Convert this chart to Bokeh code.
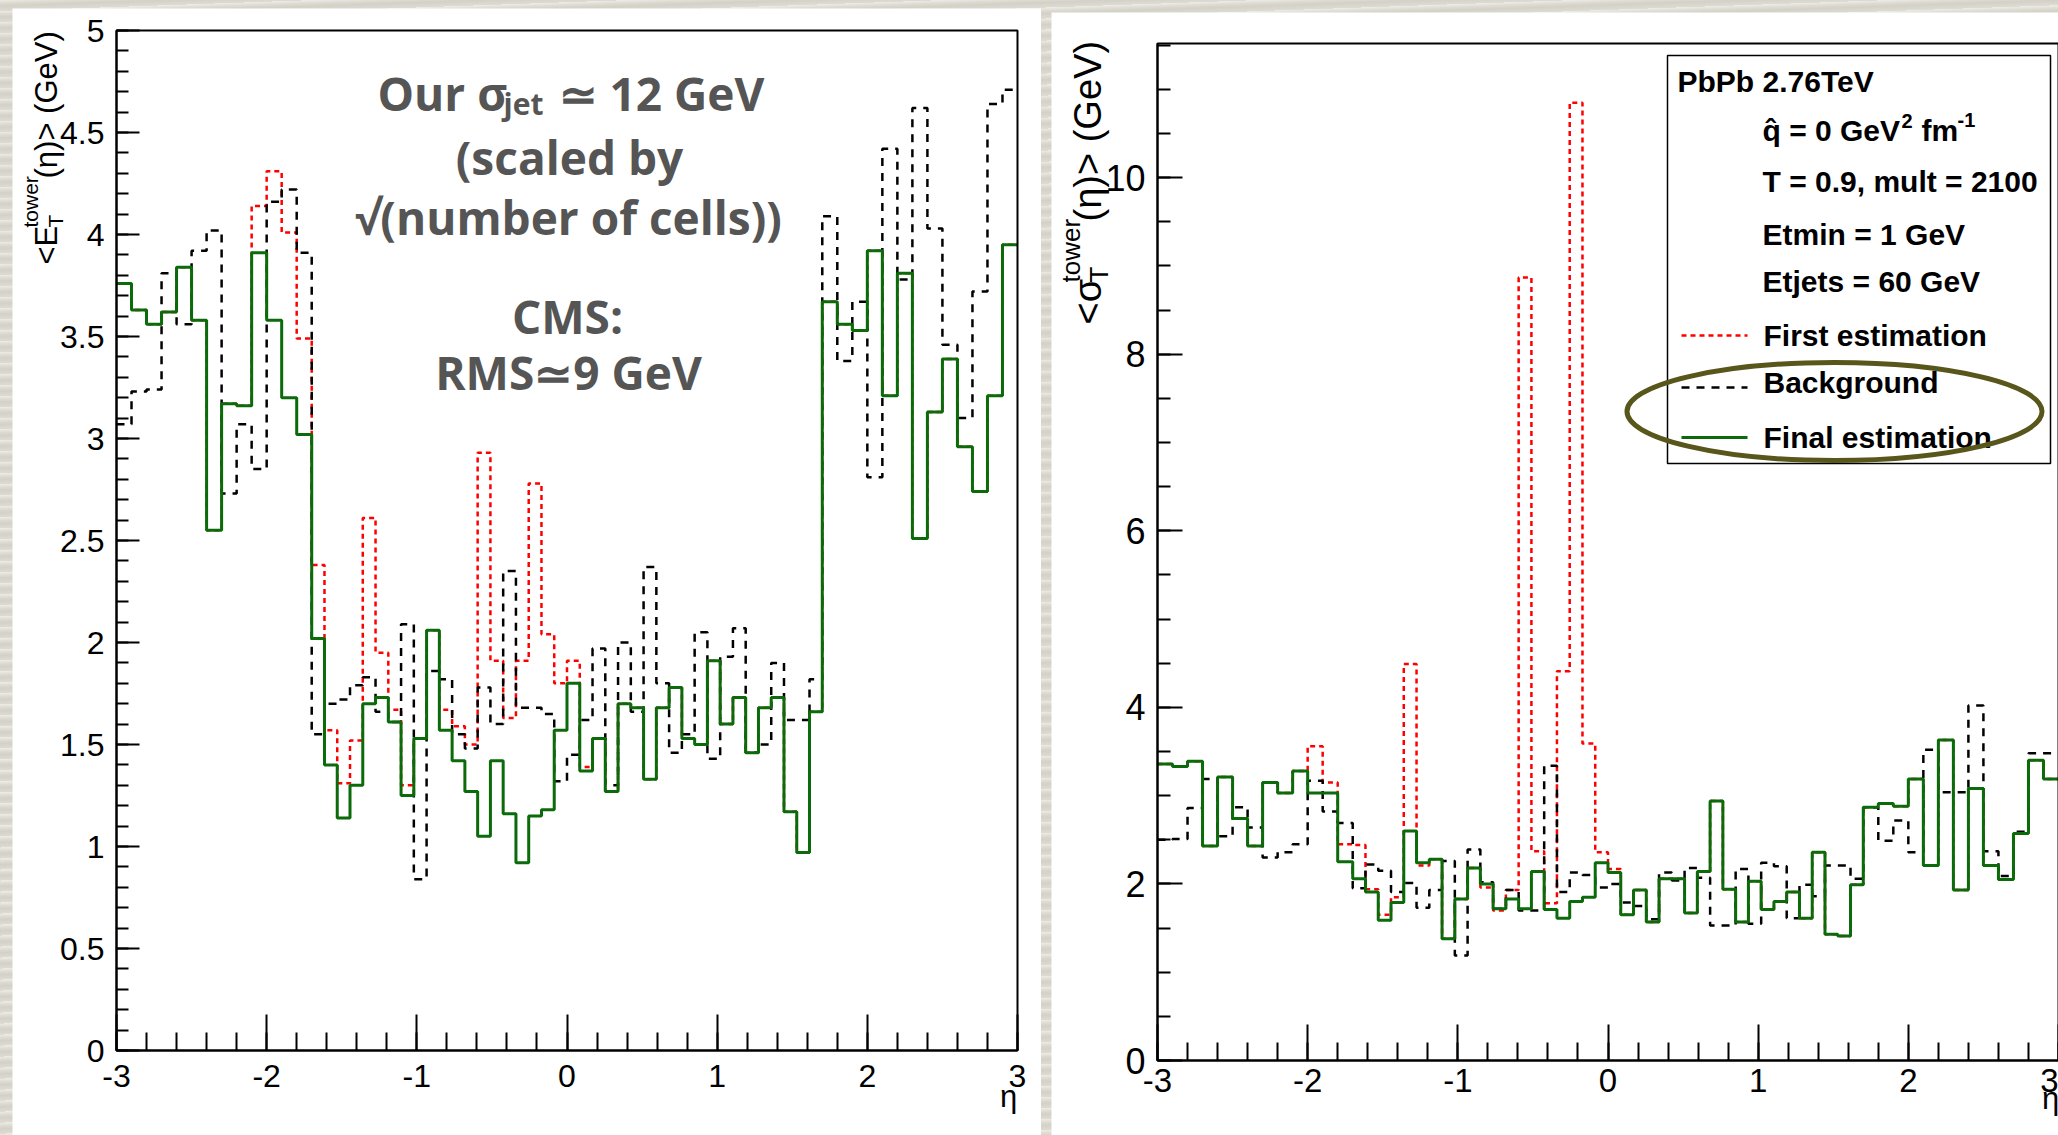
import numpy as np
from bokeh.plotting import figure
from bokeh.models import Range1d, FixedTicker, Label
from bokeh.layouts import row
from bokeh.embed import file_html
from bokeh.resources import INLINE
from bokeh.core.properties import value

# ---------------- data ----------------
# eta binning: 0.1 wide in the endcaps, 40 narrower bins in the barrel (|eta| < 1.7)
ETA_EDGES = np.round(np.concatenate([
    np.linspace(-3.0, -1.7, 14),
    np.linspace(-1.7, 1.7, 41)[1:],
    np.linspace(1.7, 3.0, 14)[1:],
]), 4)

# left panel : <E_T^tower(eta)> (GeV)
ET_FINAL = [3.76, 3.63, 3.56, 3.62, 3.84, 3.58, 2.55, 3.17, 3.16, 3.91, 3.58, 3.20, 3.02,
            2.02, 1.40, 1.14, 1.30, 1.70, 1.73, 1.61, 1.25, 1.53, 2.06, 1.57, 1.42, 1.27, 1.05,
            1.42, 1.16, 0.92, 1.15, 1.18, 1.57, 1.80, 1.37, 1.53, 1.27, 1.70, 1.68, 1.33, 1.68,
            1.78, 1.53, 1.50, 1.91, 1.60, 1.73, 1.46, 1.68, 1.73, 1.17, 0.97, 1.66,
            3.67, 3.56, 3.53, 3.92, 3.21, 3.81, 2.51, 3.13, 3.39, 2.96, 2.74, 3.21, 3.95]
ET_BACKGROUND = [3.07, 3.23, 3.24, 3.81, 3.56, 3.92, 4.02, 2.73, 3.07, 2.85, 4.16, 4.22, 3.91,
                 1.55, 1.70, 1.72, 1.79, 1.83, 1.66, 1.61, 2.09, 0.84, 1.86, 1.82, 1.55, 1.48, 1.78,
                 1.60, 2.35, 1.68, 1.68, 1.65, 1.32, 1.45, 1.62, 1.97, 1.30, 2.00, 1.66, 2.37, 1.80,
                 1.46, 1.55, 2.05, 1.43, 1.93, 2.07, 1.46, 1.50, 1.90, 1.62, 1.62, 1.82,
                 4.09, 3.38, 3.67, 2.81, 4.42, 3.78, 4.62, 4.03, 3.46, 3.10, 3.72, 4.64, 4.71]
ET_FIRST = [3.76, 3.63, 3.56, 3.62, 3.84, 3.58, 2.55, 3.17, 3.16, 4.14, 4.31, 4.01, 3.49,
            2.38, 1.57, 1.31, 1.52, 2.61, 1.95, 1.67, 1.30, 1.53, 2.06, 1.67, 1.59, 1.50, 2.93,
            1.91, 1.63, 1.91, 2.78, 2.04, 1.80, 1.91, 1.39, 1.53, 1.27, 1.70, 1.68, 1.33, 1.68,
            1.78, 1.53, 1.50, 1.91, 1.60, 1.73, 1.46, 1.68, 1.73, 1.17, 0.97, 1.66,
            3.67, 3.56, 3.53, 3.92, 3.21, 3.81, 2.51, 3.13, 3.39, 2.96, 2.74, 3.21, 3.95]

# right panel : <sigma_T^tower(eta)> (GeV)
SIG_FINAL = [3.36, 3.33, 3.39, 2.43, 3.21, 2.74, 2.43, 3.15, 3.03, 3.28, 3.03, 3.03, 2.25,
             2.06, 1.91, 1.59, 1.79, 2.60, 2.24, 2.28, 1.38, 1.83, 2.18, 2.00, 1.72, 1.83, 1.72,
             2.14, 1.71, 1.61, 1.80, 1.85, 2.24, 2.13, 1.65, 1.93, 1.57, 2.06, 2.06, 1.67, 2.14,
             2.94, 1.94, 1.57, 2.03, 1.71, 1.80, 1.91, 1.61, 2.36, 1.43, 1.41, 1.99,
             2.87, 2.91, 2.88, 3.19, 2.21, 3.63, 1.93, 3.08, 2.21, 2.05, 2.57, 3.40, 3.19]
SIG_BACKGROUND = [2.50, 2.51, 2.86, 3.19, 2.54, 2.87, 2.64, 2.30, 2.36, 2.45, 3.17, 2.82, 2.69,
                  1.95, 2.22, 2.15, 1.91, 2.01, 1.73, 1.93, 2.26, 1.19, 2.39, 2.02, 1.72, 1.93, 1.70,
                  1.70, 3.34, 1.91, 2.13, 2.10, 1.96, 2.00, 1.79, 1.75, 1.60, 2.13, 2.04, 2.18, 2.07,
                  1.53, 1.53, 2.17, 1.55, 2.24, 2.20, 1.61, 1.99, 1.86, 2.21, 2.21, 2.06,
                  2.87, 2.49, 2.72, 2.36, 3.52, 3.04, 3.04, 4.02, 2.37, 2.09, 2.59, 3.48, 3.48]
SIG_FIRST = [3.36, 3.33, 3.39, 2.43, 3.21, 2.74, 2.43, 3.15, 3.03, 3.28, 3.56, 3.15, 2.45,
             2.44, 1.94, 1.65, 1.85, 4.49, 2.21, 2.28, 1.38, 1.83, 2.18, 1.96, 1.70, 1.93, 8.87,
             2.37, 1.78, 4.41, 10.85, 3.59, 2.36, 2.17, 1.65, 1.93, 1.57, 2.06, 2.06, 1.67, 2.14,
             2.94, 1.94, 1.57, 2.03, 1.71, 1.80, 1.91, 1.61, 2.36, 1.43, 1.41, 1.99,
             2.87, 2.91, 2.88, 3.19, 2.21, 3.63, 1.93, 3.08, 2.21, 2.05, 2.57, 3.40, 3.19]

X_TICKS = [-3, -2, -1, 0, 1, 2, 3]
X_TICK_LABELS = ["-3", "-2", "-1", "0", "1", "2", "3"]
LEFT_Y_TICKS = [0, 0.5, 1, 1.5, 2, 2.5, 3, 3.5, 4, 4.5, 5]
LEFT_Y_TICK_LABELS = ["0", "0.5", "1", "1.5", "2", "2.5", "3", "3.5", "4", "4.5", "5"]
RIGHT_Y_TICKS = [0, 2, 4, 6, 8, 10]
RIGHT_Y_TICK_LABELS = ["0", "2", "4", "6", "8", "10"]

LEGEND_HEADER = ["PbPb 2.76TeV", "T = 0.9, mult = 2100", "Etmin = 1 GeV", "Etjets = 60 GeV"]
SERIES_NAMES = ["First estimation", "Background", "Final estimation"]

# ---------------- style ----------------
RED = "#ff0000"
BLACK = "#000000"
GREEN = "#0b6b0b"
OLIVE = "#58561b"
GRAY = "#555555"
FONT = "Liberation Sans"
HALF_PI = np.pi / 2
BASE_K = 0.38   # alphabetic-baseline correction of the svg text, in em

# geometry (window pixels): canvas box and plot box of each panel
L_CX0, L_CX1, L_CY0, L_CY1 = 12, 1041, 8, 1135
L_X0, L_X1, L_YT, L_YB, L_YMAX = 116, 1017, 30, 1050, 5.0
R_CX0, R_CX1, R_CY0, R_CY1 = 1051, 2058, 12, 1135
R_X0, R_X1, R_YT, R_YB, R_YMAX = 1157, 2058, 43, 1060, 11.52


def make_conv(x0, x1, yt, yb, ymax):
    def conv(X, Y):
        return (-3 + 6.0 * (X - x0) / (x1 - x0), ymax * (yb - Y) / (yb - yt))
    return conv


lconv = make_conv(L_X0, L_X1, L_YT, L_YB, L_YMAX)
rconv = make_conv(R_X0, R_X1, R_YT, R_YB, R_YMAX)


def make_fig(cx0, cx1, cy0, cy1, conv, ymax):
    xa, ya = conv(cx0, cy1)
    xb, yb = conv(cx1, cy0)
    p = figure(width=cx1 - cx0, height=cy1 - cy0, x_range=Range1d(xa, xb),
               y_range=Range1d(ya, yb), output_backend="svg", toolbar_location=None,
               min_border=0, min_border_left=0, min_border_right=0, min_border_top=0,
               min_border_bottom=0, background_fill_color="white", border_fill_color="white")
    p.xgrid.visible = False
    p.ygrid.visible = False
    p.outline_line_color = None
    p.xaxis.fixed_location = 0
    p.xaxis.bounds = (-3, 3)
    p.yaxis.fixed_location = -3
    p.yaxis.bounds = (0, ymax)
    for ax in (p.xaxis[0], p.yaxis[0]):
        ax.axis_line_width = 2
        ax.major_tick_line_width = 2
        ax.minor_tick_line_width = 2
        ax.major_tick_out = 0
        ax.minor_tick_out = 0
        ax.major_label_text_font = FONT
        ax.major_label_text_color = "black"
    return p


def hist(p, vals, color, width, dash):
    y = list(vals) + [vals[-1]]
    p.step(x=list(ETA_EDGES), y=y, mode="after", line_color=color, line_width=width,
           line_dash=dash)


def frame_box(p, ymax):
    p.quad(left=[-3], right=[3], bottom=[0], top=[ymax], fill_color=None,
           line_color="black", line_width=2)


def lab(p, conv, X, Y, text, size, color="black", font=FONT, style="normal",
        align="left", rotated=False):
    # (X, Y) = wanted start of the baseline in window pixels
    if rotated:
        x, y = conv(X - BASE_K * size, Y)
    else:
        x, y = conv(X, Y - BASE_K * size)
    p.add_layout(Label(x=x, y=y, text=text, text_font_size=f"{size}px", text_color=color,
                       text_font=font, text_font_style=style, text_align=align,
                       text_baseline="alphabetic", angle=HALF_PI if rotated else 0.0))


x_minor = [round(v, 2) for v in np.arange(-3, 3.001, 0.2)]

# ---------------- left panel ----------------
p1 = make_fig(L_CX0, L_CX1, L_CY0, L_CY1, lconv, L_YMAX)
p1.margin = (L_CY0, 0, 0, L_CX0)
p1.xaxis.ticker = FixedTicker(ticks=X_TICKS, minor_ticks=x_minor)
p1.xaxis.major_label_overrides = dict(zip(X_TICKS, X_TICK_LABELS))
p1.xaxis.major_tick_in = 36
p1.xaxis.minor_tick_in = 18
p1.xaxis.major_label_text_font_size = "32px"
p1.xaxis.major_label_standoff = 14
p1.yaxis.ticker = FixedTicker(ticks=LEFT_Y_TICKS,
                              minor_ticks=[round(v, 2) for v in np.arange(0, 5.001, 0.1)])
p1.yaxis.major_label_overrides = dict(zip(LEFT_Y_TICKS, LEFT_Y_TICK_LABELS))
p1.yaxis.major_tick_in = 23
p1.yaxis.minor_tick_in = 12
p1.yaxis.major_label_text_font_size = "32px"
p1.yaxis.major_label_standoff = 12

hist(p1, ET_FIRST, RED, 2.5, "5 4")
hist(p1, ET_BACKGROUND, BLACK, 2.5, "8 7")
hist(p1, ET_FINAL, GREEN, 3, "solid")
frame_box(p1, L_YMAX)

# rotated y title: <E_T^tower (eta)> (GeV)
lab(p1, lconv, 58, 264, "<E", 31, rotated=True)
lab(p1, lconv, 63, 227, "T", 21, rotated=True)
lab(p1, lconv, 38, 227, "tower", 21, rotated=True)
lab(p1, lconv, 58, 178, " (\u03b7)> (GeV)", 31, rotated=True)
lab(p1, lconv, 1008, 1108, "\u03b7", 31, align="center")

# comment text
OS = "Open Sans"
lab(p1, lconv, 377, 110, "Our \u03c3", 46, color=GRAY, font=OS, style="bold")
lab(p1, lconv, 503, 114, "jet", 30, color=GRAY, font=OS, style="bold")
lab(p1, lconv, 558, 110, "\u2243 12 GeV", 46, color=GRAY, font=OS, style="bold")
lab(p1, lconv, 569, 174, "(scaled by", 46, color=GRAY, font=OS, style="bold", align="center")
lab(p1, lconv, 568, 234, "\u221a(number of cells))", 46, color=GRAY, font=OS, style="bold",
    align="center")
lab(p1, lconv, 567, 333, "CMS:", 46, color=GRAY, font=OS, style="bold", align="center")
lab(p1, lconv, 568, 389, "RMS\u22439 GeV", 46, color=GRAY, font=OS, style="bold", align="center")

# ---------------- right panel ----------------
p2 = make_fig(R_CX0, R_CX1, R_CY0, R_CY1, rconv, R_YMAX)
p2.margin = (R_CY0, 0, 0, R_CX0 - L_CX1)
p2.xaxis.ticker = FixedTicker(ticks=X_TICKS, minor_ticks=x_minor)
p2.xaxis.major_label_overrides = dict(zip(X_TICKS, X_TICK_LABELS))
p2.xaxis.major_tick_in = 36
p2.xaxis.minor_tick_in = 18
p2.xaxis.major_label_text_font_size = "33px"
p2.xaxis.major_label_standoff = 8
p2.yaxis.ticker = FixedTicker(ticks=RIGHT_Y_TICKS,
                              minor_ticks=[round(v, 2) for v in np.arange(0, 11.51, 0.5)])
p2.yaxis.major_label_overrides = dict(zip(RIGHT_Y_TICKS, RIGHT_Y_TICK_LABELS))
p2.yaxis.major_tick_in = 25
p2.yaxis.minor_tick_in = 13
p2.yaxis.major_label_text_font_size = "36px"
p2.yaxis.major_label_standoff = 12

hist(p2, SIG_FIRST, RED, 2.5, "5 4")
hist(p2, SIG_BACKGROUND, BLACK, 2.5, "8 7")
hist(p2, SIG_FINAL, GREEN, 3, "solid")
frame_box(p2, R_YMAX)

lab(p2, rconv, 1102, 324, "<\u03c3", 38, rotated=True)
lab(p2, rconv, 1108, 282, "T", 26, rotated=True)
lab(p2, rconv, 1080, 282, "tower", 26, rotated=True)
lab(p2, rconv, 1102, 221, " (\u03b7)> (GeV)", 38, rotated=True)
lab(p2, rconv, 2050, 1110, "\u03b7", 31, align="center")

# legend box
bl, bt = rconv(1667, 55)
br, bb = rconv(2050, 463)
p2.quad(left=[bl], right=[br], top=[bt], bottom=[bb], fill_color="white",
        line_color="black", line_width=1.5)
for (ys, color, dash, w) in [(335, RED, "5 4", 2.5), (387, BLACK, "8 7", 2.5), (437, GREEN, "solid", 3)]:
    xa, ya = rconv(1681, ys)
    xb, _ = rconv(1747, ys)
    p2.line(x=[xa, xb], y=[ya, ya], line_color=color, line_dash=dash, line_width=w)


def rtext(X, Y, text, size=30):
    x, y = rconv(X, Y - BASE_K * size)
    p2.text(x=[x], y=[y], text=[text], text_font=value(FONT), text_font_size=f"{size}px",
            text_font_style="bold", text_baseline="alphabetic", text_align="left",
            text_color="black")


rtext(1677, 92, LEGEND_HEADER[0])
rtext(1762, 141, "q\u0302 = 0 GeV")
rtext(1901, 128, "2", 20)
rtext(1921, 141, "fm")
rtext(1957, 127, "-1", 20)
rtext(1762, 192, LEGEND_HEADER[1])
rtext(1762, 245, LEGEND_HEADER[2])
rtext(1762, 292, LEGEND_HEADER[3])
rtext(1763, 346, SERIES_NAMES[0])
rtext(1763, 393, SERIES_NAMES[1])
rtext(1763, 448, SERIES_NAMES[2])

ex, ey = rconv(1834, 411)
ew = 6.0 * 415 / (R_X1 - R_X0)
eh = R_YMAX * 98 / (R_YB - R_YT)
p2.ellipse(x=[ex], y=[ey], width=[ew], height=[eh], fill_color=None,
           line_color=OLIVE, line_width=5)

layout = row(p1, p2, spacing=0, styles={
    "background-color": "#dedbd2",
    "background-image": "repeating-linear-gradient(178deg, rgba(255,255,255,0.45) 0px, "
                        "rgba(255,255,255,0.0) 3px, rgba(120,115,100,0.10) 6px, "
                        "rgba(255,255,255,0.0) 11px)",
})

open("out.html", "w").write(file_html(layout, INLINE))
